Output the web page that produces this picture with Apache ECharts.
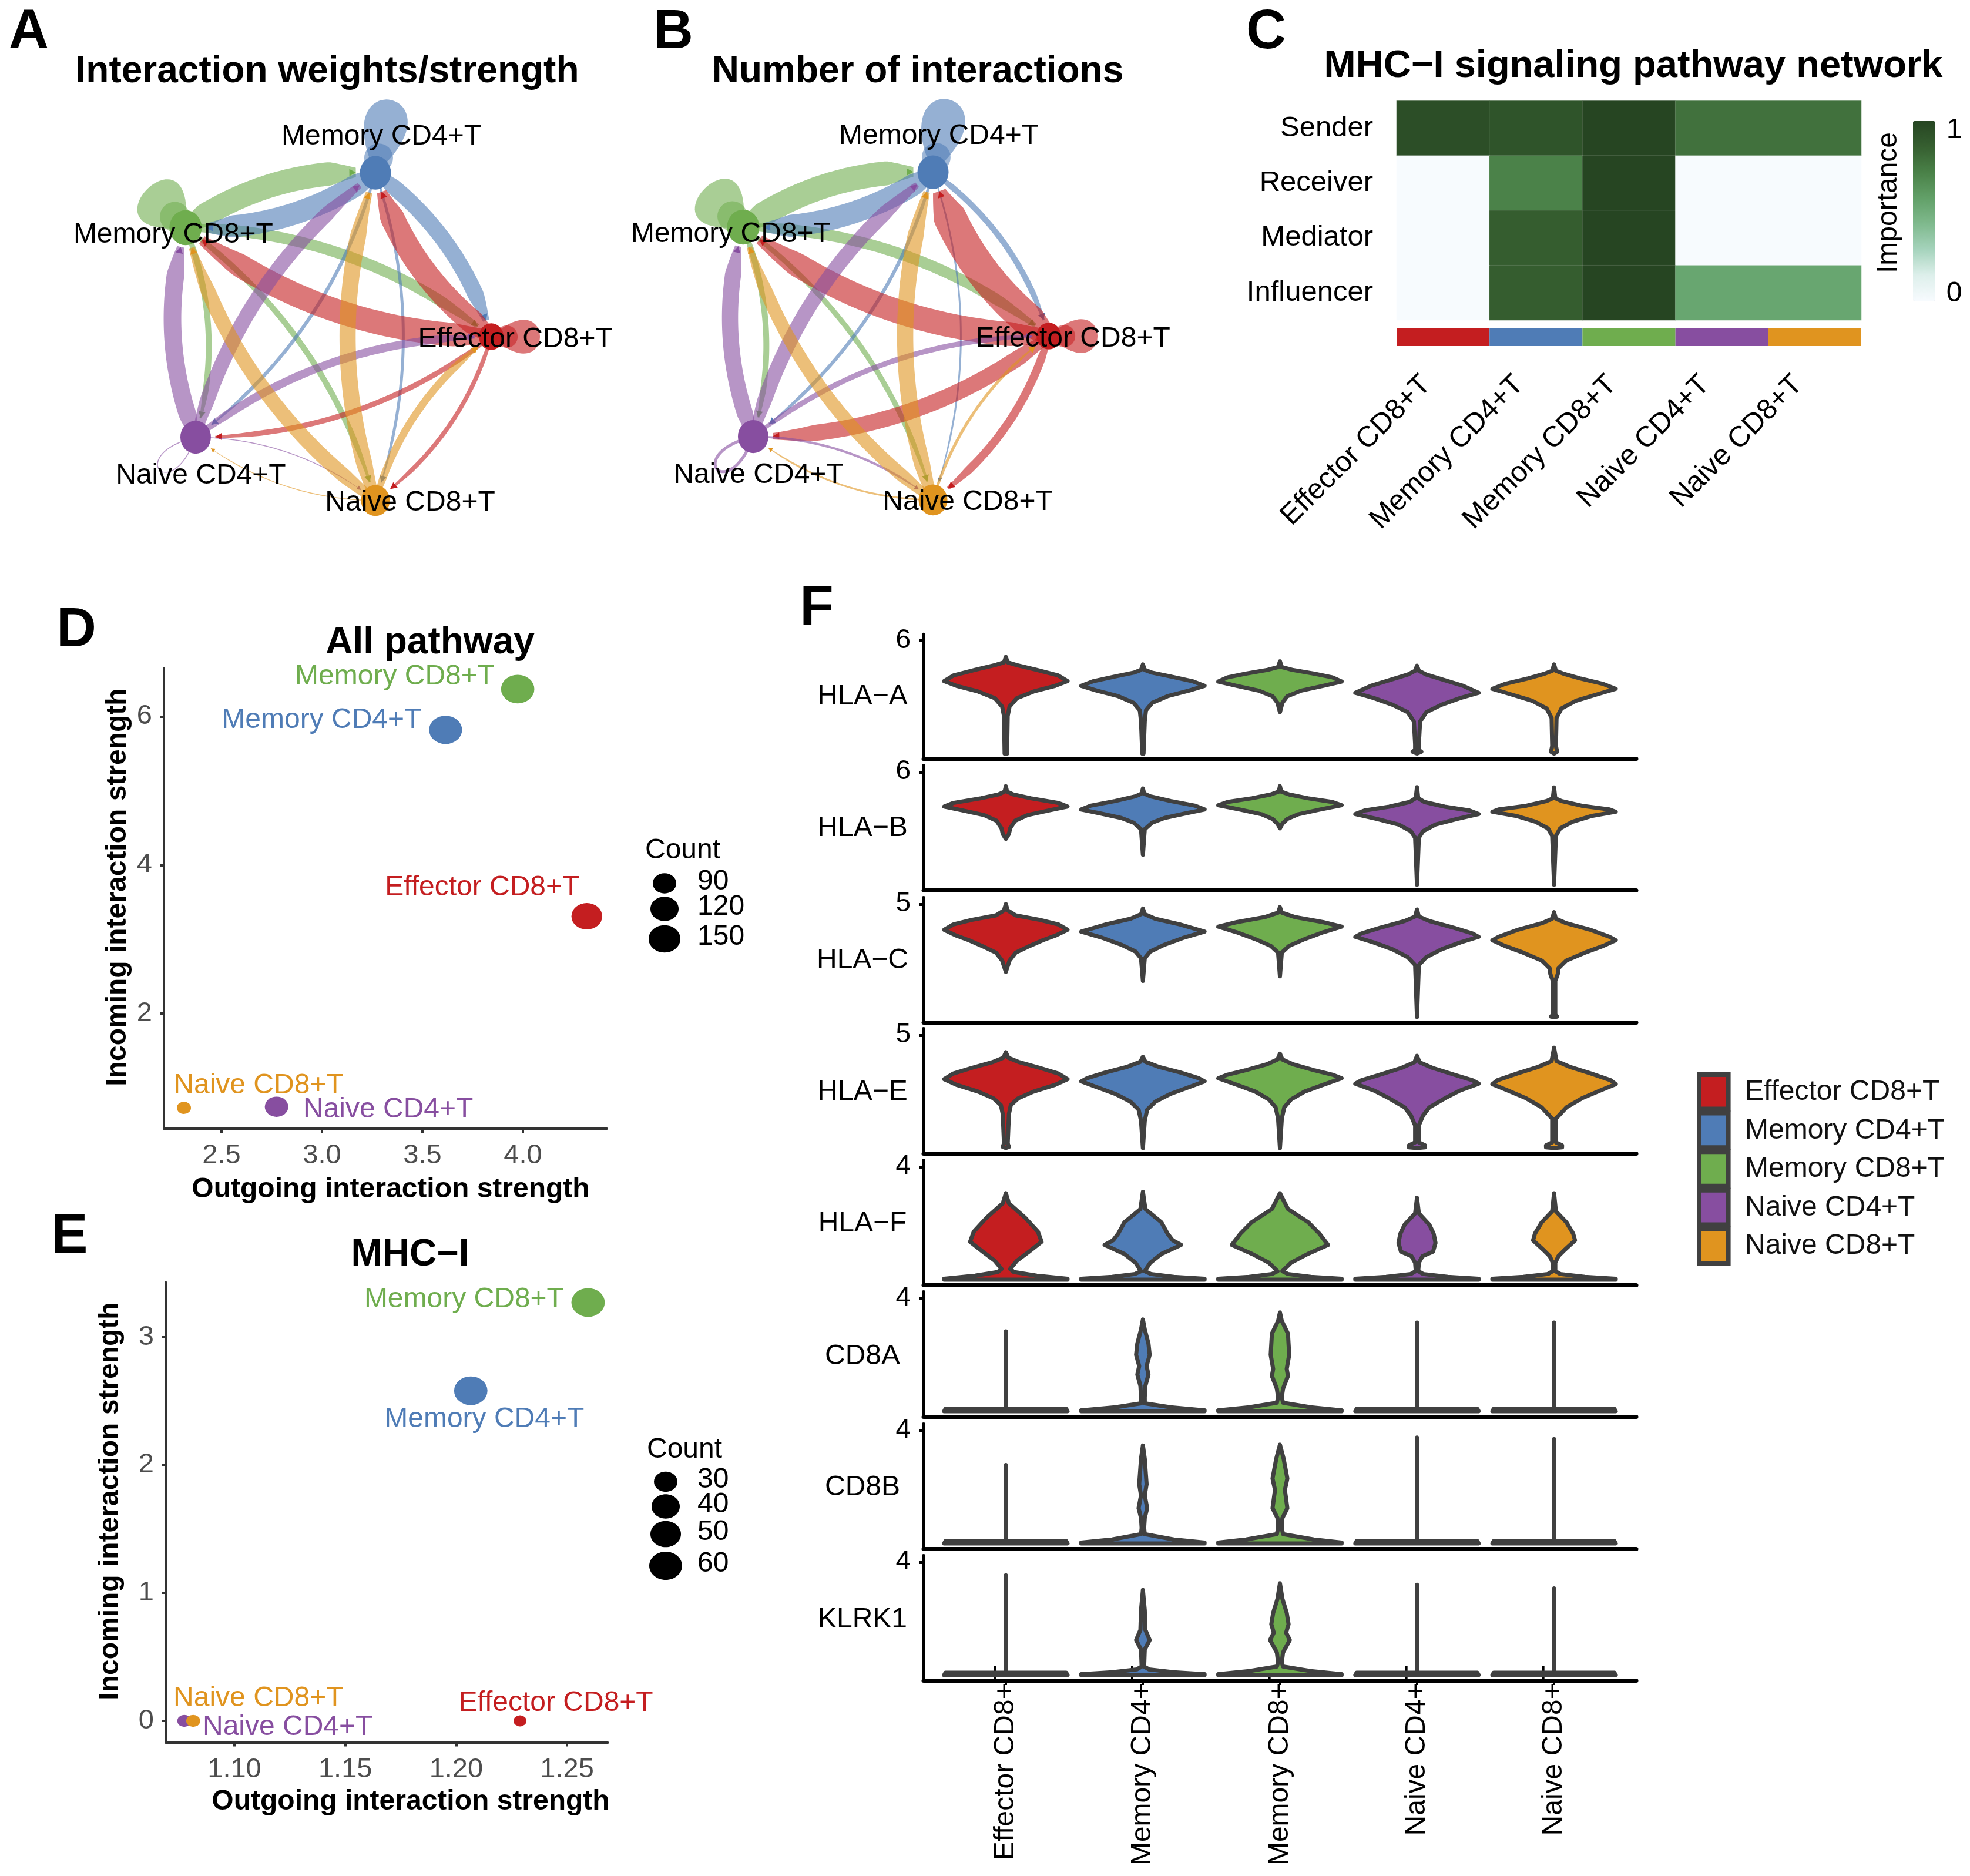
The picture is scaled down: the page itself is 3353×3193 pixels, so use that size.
<!DOCTYPE html>
<html><head><meta charset="utf-8">
<style>html,body{margin:0;padding:0;background:#fff}#c{width:3353px;height:3193px}</style>
<script src="https://cdn.jsdelivr.net/npm/echarts@6/dist/echarts.min.js"></script>
</head><body><div id="c"></div>
<script>
const FONT = '"Liberation Sans", Arial, sans-serif';
const cellTypes = ['Effector CD8+T','Memory CD4+T','Memory CD8+T','Naive CD4+T','Naive CD8+T'];
const cellColors = ['#C41E20','#4F7CB6','#6FAD4E','#874EA0','#E0941F'];

// A / B : circle network
const nodeX = [0.99, 0.308, -0.81, -0.751, 0.308];
const nodeY = [0, 0.965, 0.642, -0.592, -0.965];
const nodeCounts = [840, 1060, 1100, 1040, 980];
const weightMatrix = [
  [0.75,0.82,0.80,0.18,0.15],
  [0.55,1.25,0.75,0.12,0.10],
  [0.38,0.80,1.50,0.20,0.20],
  [0.28,0.50,0.60,0.03,0.03],
  [0.25,0.55,0.50,0.03,0]
];
const countMatrix = [
  [0.80,1.12,0.82,0.55,0.28],
  [0.20,1.20,0.75,0.12,0.06],
  [0.38,0.82,1.50,0.20,0.18],
  [0.18,0.50,0.55,0.10,0.08],
  [0.10,0.55,0.45,0.06,0]
];
const netLabelOffsets = [[41,5],[10,-61],[-21,12],[9,66],[59,4]];
const loopAngles = [0, 78, 135, 222, 0];
const loopLengths = [85, 130, 95, 85, 0];
const loopSpreads = [1.17, 0.98, 1.6, 0.7, 0];

// C : heatmap
const roles = ['Sender','Receiver','Mediator','Influencer'];
const senderRow = [0.95,0.92,1.00,0.78,0.78];
const receiverRow = [0,0.71,1.00,0,0];
const mediatorRow = [0,0.87,1.00,0,0];
const influencerRow = [0,0.87,1.00,0.54,0.54];
const heatRows = [senderRow,receiverRow,mediatorRow,influencerRow];

// D : all pathway
const dOutgoing = [4.318,3.615,3.974,2.774,2.313];
const dIncoming = [3.31,5.82,6.37,0.745,0.73];
const dCount = [142,158,160,90,38];
const dLegend = [90,120,150];
const dLabelOffsets = [[-178,-49],[-211,-17],[-209,-21],[190,5],[127,-38]];
// E : MHC-I
const eOutgoing = [1.2288,1.2066,1.2595,1.0774,1.0814];
const eIncoming = [0,2.58,3.27,0,0];
const eCount = [10,62,62,12,12];
const eLegend = [30,40,50,60];
const eLabelOffsets = [[61,-30],[23,49],[-211,-5],[176,11],[111,-38]];

// F : violins, [expression, relative density]
const genes = ['HLA\u2212A','HLA\u2212B','HLA\u2212C','HLA\u2212E','HLA\u2212F','CD8A','CD8B','KLRK1'];
const geneTicks = [6,6,5,5,4,4,4,4];
const hlaA = [
 [[5.14,0],[4.85,.03],[4.7,.18],[4.45,.5],[4.15,.85],[3.85,1],[3.6,.8],[3.3,.45],[2.95,.18],[2.5,.06],[2,.03],[0,.02]],
 [[4.74,0],[4.45,.03],[4.3,.15],[4.1,.45],[3.85,.8],[3.6,1],[3.35,.75],[3.05,.4],[2.7,.15],[2.3,.05],[1.7,.03],[0,.01]],
 [[4.9,0],[4.6,.03],[4.45,.2],[4.25,.55],[4.05,.85],[3.83,1],[3.6,.7],[3.35,.35],[3.05,.12],[2.7,.04],[2.2,0]],
 [[4.67,0],[4.4,.03],[4.2,.15],[3.95,.4],[3.6,.75],[3.23,1],[2.95,.7],[2.6,.4],[2.2,.15],[1.7,.05],[.5,.03],[.2,.03],[.1,.07],[0,0]],
 [[4.74,0],[4.4,.03],[4.25,.15],[4,.42],[3.7,.8],[3.44,1],[3.15,.7],[2.8,.35],[2.4,.12],[1.9,.04],[.4,.03],[.1,.05],[0,0]]
];
const hlaB = [
 [[5.24,0],[4.95,.02],[4.8,.12],[4.6,.4],[4.35,.85],[4.16,1],[3.95,.7],[3.7,.35],[3.4,.15],[3,.07],[2.7,.05],[2.44,0]],
 [[5.12,0],[4.85,.02],[4.7,.12],[4.45,.45],[4.2,.85],[4,1],[3.8,.7],[3.55,.35],[3.3,.15],[2.95,.03],[1.6,0]],
 [[5.24,0],[4.95,.02],[4.8,.15],[4.6,.45],[4.4,.85],[4.23,1],[4,.65],[3.75,.3],[3.5,.12],[3.25,.04],[3,0]],
 [[5.19,0],[4.6,.02],[4.4,.12],[4.15,.45],[3.95,.85],[3.76,1],[3.5,.65],[3.2,.3],[2.85,.1],[2.5,.03],[0,0]],
 [[5.17,0],[4.6,.02],[4.45,.12],[4.2,.45],[4,.9],[3.88,1],[3.65,.6],[3.35,.3],[3,.1],[2.6,.03],[0,0]]
];
const hlaC = [
 [[5,0],[4.72,.03],[4.5,.16],[4.3,.55],[4.1,.85],[3.86,1],[3.6,.8],[3.4,.6],[3.1,.35],[2.85,.16],[2.5,.06],[2,0]],
 [[4.8,0],[4.55,.03],[4.35,.2],[4.1,.6],[3.78,1],[3.5,.65],[3.2,.35],[2.9,.12],[2.6,.03],[1.6,0]],
 [[4.86,0],[4.62,.03],[4.42,.25],[4.2,.7],[4,1],[3.75,.7],[3.45,.4],[3.15,.15],[2.85,.03],[1.8,0]],
 [[4.76,0],[4.45,.03],[4.25,.2],[3.95,.6],[3.7,.9],[3.55,1],[3.3,.7],[3,.4],[2.65,.15],[2.3,.03],[0,0]],
 [[4.64,0],[4.35,.03],[4.15,.2],[3.85,.6],[3.55,.9],[3.4,1],[3.15,.8],[2.85,.5],[2.5,.2],[2.15,.07],[1.9,.06],[1.6,.02],[.1,.02],[.02,.05],[0,0]]
];
const hlaE = [
 [[4.24,0],[4,.04],[3.8,.22],[3.55,.55],[3.3,.85],[3.05,1],[2.8,.8],[2.5,.45],[2.2,.2],[1.9,.08],[1.5,.05],[.2,.03],[.05,.05],[0,0]],
 [[4.04,0],[3.82,.04],[3.6,.25],[3.35,.6],[3.1,.9],[2.95,1],[2.7,.75],[2.4,.45],[2.05,.2],[1.7,.07],[1.2,.03],[0,0]],
 [[4.18,0],[3.92,.04],[3.7,.22],[3.45,.55],[3.25,.85],[3.09,1],[2.8,.7],[2.5,.4],[2.15,.18],[1.8,.07],[1.3,.03],[0,0]],
 [[4.08,0],[3.8,.04],[3.55,.25],[3.25,.6],[3,.9],[2.85,1],[2.55,.7],[2.2,.45],[1.8,.2],[1.45,.1],[1,.03],[.25,.03],[.12,.13],[.03,.13],[0,0]],
 [[4.44,0],[3.85,.04],[3.6,.25],[3.3,.6],[3,.92],[2.83,1],[2.55,.75],[2.2,.45],[1.8,.2],[1.3,.03],[.25,.03],[.12,.13],[.03,.13],[0,0]]
];
const hlaF = [
 [[3.06,0],[2.7,.05],[2.2,.31],[1.7,.52],[1.34,.58],[1,.38],[.67,.18],[.38,.07],[.27,.13],[.14,.5],[.03,1],[0,1]],
 [[3.11,0],[2.5,.04],[2.03,.3],[1.63,.4],[1.4,.48],[1.23,.62],[.91,.3],[.6,.12],[.3,.03],[.2,.13],[.1,.5],[.03,1],[0,1]],
 [[3.06,0],[2.5,.13],[2.03,.46],[1.63,.64],[1.23,.78],[.91,.45],[.6,.18],[.3,.04],[.2,.13],[.1,.5],[.03,1],[0,1]],
 [[2.9,0],[2.35,.03],[1.95,.2],[1.63,.27],[1.3,.3],[.99,.26],[.83,.09],[.6,.03],[.3,.02],[.2,.1],[.1,.5],[.03,1],[0,1]],
 [[3.06,0],[2.42,.03],[2.03,.2],[1.63,.31],[1.39,.34],[1.07,.18],[.83,.07],[.6,.02],[.3,.02],[.2,.1],[.1,.5],[.03,1],[0,1]]
];
const cd8a = [
 [[2.83,0],[.09,0],[.08,.98],[0,1]],
 [[3.25,0],[2.9,.03],[2.4,.09],[2,.11],[1.6,.06],[1.3,.09],[.9,.04],[.5,.03],[.28,.03],[.14,.45],[.03,1],[0,1]],
 [[3.5,0],[3.2,.03],[2.75,.13],[2,.15],[1.5,.11],[1.25,.13],[.8,.05],[.5,.03],[.3,.05],[.14,.5],[.03,1],[0,1]],
 [[3.14,0],[.09,0],[.08,.98],[0,1]],
 [[3.14,0],[.09,0],[.08,.98],[0,1]]
];
const cd8b = [
 [[2.78,0],[.09,0],[.08,.98],[0,1]],
 [[3.47,0],[3,.03],[2.4,.05],[2.1,.06],[1.7,.03],[1.25,.07],[.9,.03],[.55,.02],[.33,.03],[.14,.5],[.03,1],[0,1]],
 [[3.5,0],[3,.06],[2.3,.12],[1.9,.08],[1.25,.12],[.9,.04],[.55,.03],[.33,.05],[.14,.55],[.03,1],[0,1]],
 [[3.75,0],[.09,0],[.08,.98],[0,1]],
 [[3.7,0],[.09,0],[.08,.98],[0,1]]
];
const klrk1 = [
 [[3.53,0],[.09,0],[.08,.98],[0,1]],
 [[3.01,0],[2.3,.03],[1.6,.04],[1.24,.11],[.9,.03],[.3,.02],[.2,.1],[.1,.5],[.03,1],[0,1]],
 [[3.25,0],[2.7,.04],[2.2,.11],[1.8,.14],[1.5,.1],[1.24,.16],[.8,.05],[.45,.03],[.3,.05],[.14,.5],[.03,1],[0,1]],
 [[3.2,0],[.09,0],[.08,.98],[0,1]],
 [[3.07,0],[.09,0],[.08,.98],[0,1]]
];
const violinData = [hlaA,hlaB,hlaC,hlaE,hlaF,cd8a,cd8b,klrk1];

// ---------- option scaffolding ----------
const grids=[], xAxes=[], yAxes=[], series=[], graphics=[], titles=[];
function addGrid(rect, xa, ya){
  grids.push(Object.assign({containLabel:false}, rect));
  const i = grids.length-1;
  xAxes.push(Object.assign({gridIndex:i}, xa));
  yAxes.push(Object.assign({gridIndex:i}, ya));
  return i;
}
function text(str,x,y,size,opt){
  opt = opt||{};
  graphics.push({type:'text',x:x+(opt.rotation?3:0),y:y+(opt.rotation?0:3),rotation:opt.rotation||0,z:50,style:{
    text:str,fontFamily:FONT,fontSize:size,fontWeight:opt.bold?'bold':'normal',
    fill:opt.color||'#000',align:opt.align||'center',verticalAlign:'middle'}});
}
function head(str,x,y,size){
  titles.push({text:str,left:x,top:y,textAlign:'center',textVerticalAlign:'middle',padding:0,
    textStyle:{fontFamily:FONT,fontSize:size,fontWeight:'bold',color:'#000'}});
}

// ---------- network panels ----------
function bez(p0,c,p1,t){
  const u=1-t;
  return [u*u*p0[0]+2*u*t*c[0]+t*t*p1[0], u*u*p0[1]+2*u*t*c[1]+t*t*p1[1]];
}
function nodeSize(i){ return nodeCounts[i]/20; }
function edgeProfile(f){
  if(f<0.12) return 0.55+0.45*f/0.12;
  if(f>0.86) return 1-0.6*(f-0.86)/0.14;
  return 1;
}
const EDGE_SCALE=50;
function addNetwork(cx, cy, matrix){
  const r=289, xSpan=1.5, ySpan=1.4;
  const g = addGrid({left:cx-r*xSpan,top:cy-r*ySpan,width:2*r*xSpan,height:2*r*ySpan},
    {type:'value',min:-xSpan,max:xSpan,show:false},{type:'value',min:-ySpan,max:ySpan,show:false});
  const edges=[];
  const order=[2,1,0,3,4];
  order.forEach(s=>{
    for(let t=0;t<5;t++){
      if(matrix[s][t]>0) edges.push([nodeX[s],nodeY[s],nodeX[t],nodeY[t],matrix[s][t],s,t]);
    }
  });
  series.push({type:'custom',xAxisIndex:g,yAxisIndex:g,coordinateSystem:'cartesian2d',z:2,silent:true,clip:false,
    encode:{x:[0,2],y:[1,3]},data:edges,
    renderItem:function(params,api){
      const sI=api.value(5), tI=api.value(6), w=api.value(4), col=cellColors[sI];
      const p0=api.coord([api.value(0),api.value(1)]), p1=api.coord([api.value(2),api.value(3)]);
      const kids=[];
      if(sI===tI){
        const a=loopAngles[sI]*Math.PI/180, L=loopLengths[sI];
        const dir=[Math.cos(a),-Math.sin(a)], perp=[Math.sin(a),Math.cos(a)];
        const W=loopSpreads[sI], pts=[];
        const c1=[p0[0]+L*(1.3*dir[0]+W*perp[0]),p0[1]+L*(1.3*dir[1]+W*perp[1])];
        const c2=[p0[0]+L*(1.3*dir[0]-W*perp[0]),p0[1]+L*(1.3*dir[1]-W*perp[1])];
        for(let i=0;i<=48;i++){
          const t=i/48,u=1-t;
          pts.push([u*u*u*p0[0]+3*u*u*t*c1[0]+3*u*t*t*c2[0]+t*t*t*p0[0],
                    u*u*u*p0[1]+3*u*u*t*c1[1]+3*u*t*t*c2[1]+t*t*t*p0[1]]);
        }
        if(w<0.2){
          kids.push({type:'polyline',shape:{points:pts},style:{fill:'none',stroke:col,opacity:.6,lineWidth:w*EDGE_SCALE}});
        }else{
          kids.push({type:'polygon',shape:{points:pts},style:{fill:col,opacity:.6}});
          kids.push({type:'circle',shape:{cx:p0[0]+dir[0]*26,cy:p0[1]+dir[1]*26,r:nodeSize(sI)/2-2},style:{fill:col,opacity:.55}});
        }
        return {type:'group',children:kids};
      }
      const dx=p1[0]-p0[0], dy=p1[1]-p0[1], len=Math.hypot(dx,dy);
      const c=[(p0[0]+p1[0])/2+dy/len*0.17*len,(p0[1]+p1[1])/2-dx/len*0.17*len];
      const rEnd=nodeSize(tI)/2+6;
      let tEnd=1;
      for(let t=1;t>0.5;t-=0.005){ const q=bez(p0,c,p1,t); if(Math.hypot(q[0]-p1[0],q[1]-p1[1])>=rEnd){tEnd=t;break;} }
      const W=w*EDGE_SCALE, left=[], right=[], N=60;
      for(let i=0;i<=N;i++){
        const f=i/N, t=f*tEnd;
        const q=bez(p0,c,p1,t), q2=bez(p0,c,p1,t+0.005);
        let tx=q2[0]-q[0], ty=q2[1]-q[1]; const tl=Math.hypot(tx,ty); tx/=tl; ty/=tl;
        const hw=W/2*edgeProfile(f);
        left.push([q[0]+ty*hw,q[1]-tx*hw]); right.unshift([q[0]-ty*hw,q[1]+tx*hw]);
      }
      kids.push({type:'polygon',shape:{points:left.concat(right)},style:{fill:col,opacity:.6}});
      const tip=bez(p0,c,p1,tEnd), back=bez(p0,c,p1,tEnd-0.005);
      let ax=tip[0]-back[0], ay=tip[1]-back[1]; const al=Math.hypot(ax,ay); ax/=al; ay/=al;
      const as=w<0.1?7:11;
      kids.push({type:'polygon',shape:{points:[tip,[tip[0]-ax*as+ay*as*.55,tip[1]-ay*as-ax*as*.55],[tip[0]-ax*as-ay*as*.55,tip[1]-ay*as+ax*as*.55]]},style:{fill:col}});
      return {type:'group',children:kids};
    }
  });
  series.push({type:'scatter',xAxisIndex:g,yAxisIndex:g,z:3,silent:true,
    data:cellTypes.map((n,i)=>({value:[nodeX[i],nodeY[i]],name:n,
      symbolSize:[nodeSize(i),nodeSize(i)*1.08],itemStyle:{color:cellColors[i],opacity:1},
      label:{show:true,position:'inside',offset:netLabelOffsets[i],formatter:n,fontFamily:FONT,fontSize:48,color:'#000'}}))
  });
}
addNetwork(550,573,weightMatrix);
addNetwork(1499,572,countMatrix);

// ---------- heatmap ----------
const hg = addGrid({left:2377,top:171.5,width:791,height:373.5},
  {type:'category',data:cellTypes,show:false},
  {type:'category',data:roles,inverse:true,axisLine:{show:false},axisTick:{show:false},
   axisLabel:{margin:40,padding:[24,0,0,0],fontFamily:FONT,fontSize:49,color:'#000'}});
const heatData=[];
heatRows.forEach((row,y)=>row.forEach((v,x)=>heatData.push([x,y,v])));
const heatIndex=series.length;
series.push({type:'heatmap',xAxisIndex:hg,yAxisIndex:hg,data:heatData,silent:true,
  itemStyle:{borderColor:'rgba(255,255,255,.12)',borderWidth:1}});
const ag = addGrid({left:2377,top:559,width:791,height:30},
  {type:'category',data:cellTypes,axisLine:{show:false},axisTick:{show:false},
   axisLabel:{interval:0,rotate:45,margin:30,padding:[0,40,0,0],fontFamily:FONT,fontSize:49,color:'#000',hideOverlap:false}},
  {type:'value',min:0,max:1,show:false});
series.push({type:'bar',xAxisIndex:ag,yAxisIndex:ag,barCategoryGap:'0%',silent:true,
  data:cellColors.map(c=>({value:1,itemStyle:{color:c}}))});
text('Importance',3212,345,48,{rotation:Math.PI/2});
text('1',3326,219,48);
text('0',3326,497,48);

// ---------- scatters ----------
function interp(stops,c){
  for(let i=1;i<stops.length;i++){
    if(c<=stops[i][0]){const a=stops[i-1],b=stops[i];return a[1]+(b[1]-a[1])*(c-a[0])/(b[0]-a[0]);}
  }
  return stops[stops.length-1][1];
}
function addScatter(cfg){
  const g=addGrid(cfg.rect,
    {type:'value',min:cfg.xr[0],max:cfg.xr[1],splitLine:{show:false},
     axisLine:{onZero:false,lineStyle:{color:'#333',width:4}},
     axisTick:{customValues:cfg.xt,length:7,lineStyle:{color:'#333',width:4}},
     axisLabel:{customValues:cfg.xt,margin:23,fontFamily:FONT,fontSize:47,color:'#4D4D4D',formatter:v=>v.toFixed(cfg.xd),hideOverlap:false,showMinLabel:true,showMaxLabel:true}},
    {type:'value',min:cfg.yr[0],max:cfg.yr[1],splitLine:{show:false},
     axisLine:{show:true,onZero:false,lineStyle:{color:'#333',width:4}},
     axisTick:{show:true,customValues:cfg.yt,length:7,lineStyle:{color:'#333',width:4}},
     axisLabel:{customValues:cfg.yt,margin:20,padding:[16,0,0,0],fontFamily:FONT,fontSize:47,color:'#4D4D4D',hideOverlap:false,showMinLabel:true,showMaxLabel:true}});
  series.push({type:'scatter',xAxisIndex:g,yAxisIndex:g,silent:true,
    data:cellTypes.map((n,i)=>{
      const d=interp(cfg.stops,cfg.count[i]);
      return {value:[cfg.out[i],cfg.inc[i]],name:n,symbolSize:[d,d*0.86],itemStyle:{color:cellColors[i],opacity:1},
        label:{show:true,position:'inside',offset:cfg.offs[i],formatter:n,fontFamily:FONT,fontSize:48,color:cellColors[i]}};
    })});
  cfg.legend.forEach((c,i)=>{
    const d=interp(cfg.stops,c);
    graphics.push({type:'ellipse',shape:{cx:cfg.legX,cy:cfg.legY[i],rx:d/2,ry:d*0.43},style:{fill:'#000'},z:50});
    text(String(c),1187,cfg.legY[i]-6,48,{align:'left'});
  });
  text('Count',cfg.cntX,cfg.cntY-2,48,{align:'left'});
}
addScatter({rect:{left:279,top:1137,width:754,height:784},xr:[2.2135,4.418],yr:[0.45,6.653],
  xt:[2.5,3,3.5,4],xd:1,yt:[2,4,6],out:dOutgoing,inc:dIncoming,count:dCount,offs:dLabelOffsets,
  stops:[[38,24],[90,40],[120,48],[150,54],[165,58]],legend:dLegend,legX:1131,legY:[1503.5,1547,1598],cntX:1098,cntY:1447});
addScatter({rect:{left:282,top:2182,width:752.5,height:783.5},xr:[1.069,1.2684],yr:[-0.168,3.43],
  xt:[1.10,1.15,1.20,1.25],xd:2,yt:[0,1,2,3],out:eOutgoing,inc:eIncoming,count:eCount,offs:eLabelOffsets,
  stops:[[10,22],[30,40],[40,48],[50,52],[60,56],[65,58]],legend:eLegend,legX:1133,legY:[2522,2564,2611,2665],cntX:1101,cntY:2467});
text('Outgoing interaction strength',665,2022,48,{bold:true});
text('Incoming interaction strength',198,1510,48,{bold:true,rotation:Math.PI/2});
text('Outgoing interaction strength',699,3064,48,{bold:true});
text('Incoming interaction strength',185,2555,48,{bold:true,rotation:Math.PI/2});

// ---------- violins ----------
const rowBaselines=[1291.7,1515,1740,1963,2187,2411,2636,2860];
const geneLabelY=[1183,1407,1632,1856,2080,2306,2529,2754];
genes.forEach((gene,r)=>{
  const tick=geneTicks[r], last=r===genes.length-1;
  const g=addGrid({left:1572,top:rowBaselines[r]-212,width:1213,height:212},
    {type:'value',min:0.4,max:5.6,splitLine:{show:false},
     axisLine:{onZero:false,lineStyle:{color:'#000',width:7}},
     axisTick:{show:last,customValues:[1,2,3,4,5],length:8,lineStyle:{color:'#000',width:4}},
     axisLabel:{show:last,customValues:[1,2,3,4,5],rotate:90,margin:-25,padding:[0,0,8,0],hideOverlap:false,
       fontFamily:FONT,fontSize:48,color:'#000',formatter:v=>cellTypes[v-1]}},
    {type:'value',min:-0.047*tick,max:1.056*tick,splitLine:{show:false},
     axisLine:{show:true,onZero:false,lineStyle:{color:'#000',width:6}},
     axisTick:{show:true,customValues:[tick],length:8,lineStyle:{color:'#000',width:5}},
     axisLabel:{customValues:[tick],margin:22,padding:[6,0,0,0],fontFamily:FONT,fontSize:46,color:'#000',hideOverlap:false,showMinLabel:true,showMaxLabel:true}});
  series.push({type:'custom',xAxisIndex:g,yAxisIndex:g,coordinateSystem:'cartesian2d',silent:true,clip:false,
    encode:{x:0},data:cellTypes.map((c,i)=>[i+1]),
    renderItem:function(params,api){
      const c=api.value(0), prof=violinData[r][c-1], R=[], L=[];
      prof.forEach(p=>{
        R.push(api.coord([c+p[1]*0.45,p[0]]));
        L.unshift(api.coord([c-p[1]*0.45,p[0]]));
      });
      return {type:'polygon',shape:{points:R.concat(L)},
        style:{fill:cellColors[c-1],stroke:'#404040',lineWidth:7,lineJoin:'round'}};
    }});
  text(gene,1468,geneLabelY[r],48);
});
// cell-type key
cellTypes.forEach((n,i)=>{
  graphics.push({type:'rect',shape:{x:2892,y:1829+i*65.6,width:49.6,height:58.6},
    style:{fill:cellColors[i],stroke:'#404040',lineWidth:8},z:50});
  text(n,2970,1856+i*65.5,48,{align:'left',color:'#111'});
});

// ---------- titles ----------
head('Interaction weights/strength',557,122,64);
head('Number of interactions',1562,122,64);
head('MHC\u2212I signaling pathway network',2780,113,65);
head('All pathway',732,1094,64);
head('MHC\u2212I',698,2136,64);
head('A',49,56,94); head('B',1146,56,94); head('C',2155,56,94);
head('D',130,1074,94); head('E',118,2106,94); head('F',1390,1037,94);

const chart=echarts.init(document.getElementById('c'),null,{renderer:'canvas',width:3353,height:3193,devicePixelRatio:1});
chart.setOption({
  animation:false,backgroundColor:'#fff',tooltip:{show:false},
  textStyle:{fontFamily:FONT},
  title:titles,grid:grids,xAxis:xAxes,yAxis:yAxes,series:series,
  visualMap:[{type:'continuous',seriesIndex:heatIndex,min:0,max:1,left:3241,top:191,itemWidth:37.5,itemHeight:306,
    calculable:false,text:null,textStyle:{fontSize:0},
    inRange:{color:['#F7FBFE','#DDEFEB','#A5D3BC','#7FB98D','#62A068','#4A8148','#365F30','#264522']}}],
  graphic:{elements:graphics}
});
</script></body></html>
